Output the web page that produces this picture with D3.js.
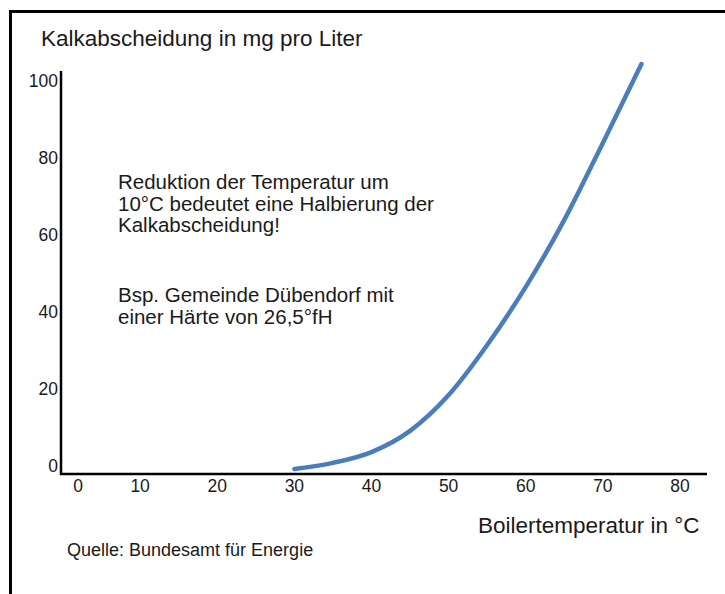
<!DOCTYPE html>
<html>
<head>
<meta charset="utf-8">
<script src="https://cdn.jsdelivr.net/npm/d3@7"></script>
<style>
  body { margin: 0; background: #fff; }
  text { font-family: "Liberation Sans", Arial, sans-serif; fill: #1a1a1a; }
</style>
</head>
<body>
<script>
var width = 725,
    height = 594;

// data
var temps = [30, 35, 40, 45, 50, 55, 60, 65, 70, 75];
var kalk = [1.3, 2.9, 5.7, 11.2, 20.5, 33.5, 48.6, 66, 86, 106.5];
var xTicks = [0, 10, 20, 30, 40, 50, 60, 70, 80];
var yTicks = [0, 20, 40, 60, 80, 100];
var note1 = ["Reduktion der Temperatur um", "10°C bedeutet eine Halbierung der", "Kalkabscheidung!"];
var note2 = ["Bsp. Gemeinde Dübendorf mit", "einer Härte von 26,5°fH"];

var svg = d3.select("body").append("svg")
    .attr("width", width)
    .attr("height", height);

// frame, open to the right and bottom
svg.append("path")
    .attr("d", "M10.5," + height + "V11.5H" + width)
    .attr("fill", "none")
    .attr("stroke", "#000")
    .attr("stroke-width", 3);

var x = d3.scaleLinear().domain([0, 80]).range([63, 680]);
var y = d3.scaleLinear().domain([0, 100]).range([474, 89]);

// axes lines
svg.append("line")
    .attr("x1", 61).attr("x2", 61)
    .attr("y1", 71).attr("y2", y(0) + 1)
    .attr("stroke", "#000").attr("stroke-width", 2.5);
svg.append("line")
    .attr("x1", 60).attr("x2", 707)
    .attr("y1", y(0)).attr("y2", y(0))
    .attr("stroke", "#000").attr("stroke-width", 2.5);

// tick labels
svg.selectAll(".ylab")
    .data(yTicks)
    .enter().append("text")
    .attr("class", "ylab")
    .attr("x", 58)
    .attr("y", function(d) { return y(d) - 2; })
    .attr("text-anchor", "end")
    .attr("font-size", 17.5)
    .text(function(d) { return d; });

svg.selectAll(".xlab")
    .data(xTicks)
    .enter().append("text")
    .attr("class", "xlab")
    .attr("x", function(d) { return x(d) + (d === 0 ? 15 : 0); })
    .attr("y", 492)
    .attr("text-anchor", "middle")
    .attr("font-size", 17.5)
    .text(function(d) { return d; });

// curve
var line = d3.line()
    .x(function(d, i) { return x(temps[i]); })
    .y(function(d) { return y(d); })
    .curve(d3.curveMonotoneX);

svg.append("path")
    .datum(kalk)
    .attr("d", line)
    .attr("fill", "none")
    .attr("stroke", "#4a7ebb")
    .attr("stroke-width", 4.5)
    .attr("stroke-linecap", "round");

// titles and notes
svg.append("text")
    .attr("x", 41).attr("y", 46)
    .attr("font-size", 22.5)
    .text("Kalkabscheidung in mg pro Liter");

svg.append("text")
    .attr("x", 478).attr("y", 533)
    .attr("font-size", 22.5)
    .text("Boilertemperatur in °C");

svg.append("text")
    .attr("x", 67).attr("y", 556)
    .attr("font-size", 18)
    .text("Quelle: Bundesamt für Energie");

svg.selectAll(".note1")
    .data(note1)
    .enter().append("text")
    .attr("x", 118)
    .attr("y", function(d, i) { return 189 + i * 21.5; })
    .attr("font-size", 20.5)
    .text(function(d) { return d; });

svg.selectAll(".note2")
    .data(note2)
    .enter().append("text")
    .attr("x", 118)
    .attr("y", function(d, i) { return 302 + i * 21.5; })
    .attr("font-size", 20.5)
    .text(function(d) { return d; });
</script>
</body>
</html>
